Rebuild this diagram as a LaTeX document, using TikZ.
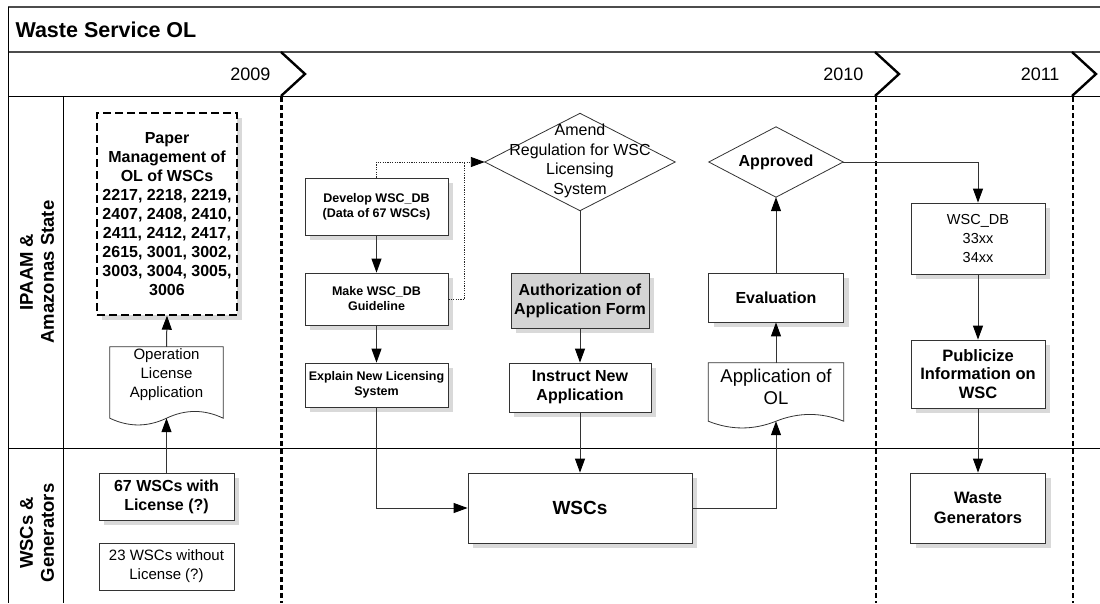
\documentclass[tikz,border=0pt]{standalone}
\usepackage{fontspec}
\setmainfont{Liberation Sans}
\usetikzlibrary{arrows.meta,shadows,calc}
\begin{document}
\begin{tikzpicture}[x=1pt,y=-1pt,
  frameline/.style={draw=black!70, line width=1.2pt},
  laneline/.style={draw=black, line width=0.9pt},
  yeardiv/.style={draw=black, line width=2.6pt, dash pattern=on 5pt off 3pt},
  chev/.style={draw=black, line width=2.4pt, line join=miter},
  year/.style={anchor=east, font=\fontsize{18}{20}\selectfont},
  lanetitle/.style={rotate=90, align=center, font=\bfseries\fontsize{18.5}{21}\selectfont},
  box/.style={draw=black!80, line width=0.8pt, fill=white, align=center, inner sep=2pt,
    drop shadow={shadow xshift=5pt, shadow yshift=-5pt, fill=black!15, opacity=1}},
  plainbox/.style={draw=black!80, line width=0.8pt, fill=white, align=center, inner sep=2pt},
  docbox/.style={draw=none, inner sep=0pt},
  outline/.style={draw=black!80, line width=0.8pt, fill=white},
  tip/.style={-{Triangle[length=14pt,width=10pt,color=black,fill=black]}},
  flow/.style={draw=black!80, line width=1pt, tip},
  link/.style={draw=black!80, line width=1pt},
  hintline/.style={draw=black!85, line width=0.9pt, dash pattern=on 1.2pt off 1.2pt},
  small/.style={font=\bfseries\fontsize{12.5}{15}\selectfont},
  mid/.style={font=\bfseries\fontsize{16}{19}\selectfont},
]
\useasboundingbox (0,0) rectangle (1100,603);

% frame, title bar, timeline band and lanes
\draw[frameline] (8,7) -- (1100,7);
\draw[frameline] (8,52) -- (1100,52);
\draw[laneline] (8,96) -- (1100,96);
\draw[laneline] (8,448) -- (1100,448);
\draw[laneline] (8,7) -- (8,603);
\draw[laneline] (63,96) -- (63,603);

\node[anchor=west, font=\bfseries\fontsize{21.5}{24}\selectfont] (title) at (12,29.5) {Waste Service OL};

% year markers
\node[year] (y2009) at (274,74) {2009};
\node[year] (y2010) at (867,74) {2010};
\node[year] (y2011) at (1063,74) {2011};
\draw[chev] (281,52) -- (305,74) -- (281,96);
\draw[chev] (875,52) -- (899,74) -- (875,96);
\draw[chev] (1072,52) -- (1096,74) -- (1072,96);
\draw[yeardiv] (281.5,97) -- (281.5,603);
\draw[yeardiv] (876,97) -- (876,603);
\draw[yeardiv] (1073,97) -- (1073,603);

% lane titles
\node[lanetitle] (lane1) at (37,272) {IPAAM \&\\Amazonas State};
\node[lanetitle] (lane2) at (37,533) {WSCs \&\\Generators};

% 2009
\node[box, draw=black, line width=1.4pt, dash pattern=on 8pt off 4pt,
  minimum width=140pt, minimum height=202pt,
  font=\bfseries\fontsize{16}{19}\selectfont] (paper) at (167,214)
  {Paper\\Management of\\OL of WSCs\\2217, 2218, 2219,\\2407, 2408, 2410,\\2411, 2412, 2417,\\2615, 3001, 3002,\\3003, 3004, 3005,\\3006};

\node[docbox, minimum width=113pt, minimum height=71pt] (ola) at (166.5,382.5) {};
\draw[outline] (ola.north west) -- (ola.north east) -- (ola.south east)
  .. controls +(-19,-9) and +(19,-9) .. (ola.south)
  .. controls +(-19,9) and +(19,9) .. (ola.south west) -- cycle;
\node[align=center, font=\fontsize{15}{19}\selectfont] (olatext) at (166.5,375) {Operation\\License\\Application};

\node[box, minimum width=135pt, minimum height=47pt, font=\bfseries\fontsize{16}{19}\selectfont] (with) at (166.5,496.5) {67 WSCs with\\License (?)};
\node[plainbox, minimum width=135pt, minimum height=47pt, font=\fontsize{15}{19}\selectfont] (without) at (166.5,566.5) {23 WSCs without\\License (?)};

% 2010
\node[box, small, minimum width=143pt, minimum height=57pt] (dev) at (376.5,206.5) {Develop WSC\_DB\\(Data of 67 WSCs)};
\node[box, small, minimum width=143pt, minimum height=52pt] (make) at (376.5,299) {Make WSC\_DB\\Guideline};
\node[box, small, minimum width=143pt, minimum height=44pt] (expl) at (376.5,385) {Explain New Licensing\\System};

\node[docbox, minimum width=190pt, minimum height=97pt] (amend) at (580,162) {};
\draw[outline] (amend.west) -- (amend.north) -- (amend.east) -- (amend.south) -- cycle;
\node[align=center, font=\fontsize{16}{19.5}\selectfont] (amendtext) at (580,161) {Amend\\Regulation for WSC\\Licensing\\System};

\node[box, mid, fill=black!17, minimum width=138pt, minimum height=55pt] (auth) at (580,300.5) {Authorization of\\Application Form};
\node[box, mid, minimum width=142pt, minimum height=49pt] (inst) at (580,387.5) {Instruct New\\Application};
\node[box, font=\bfseries\fontsize{19}{22}\selectfont, minimum width=224pt, minimum height=70pt] (wscs) at (580,508) {WSCs};

\node[docbox, minimum width=134pt, minimum height=70pt] (appr) at (776,162) {};
\draw[outline] (appr.west) -- (appr.north) -- (appr.east) -- (appr.south) -- cycle;
\node[font=\bfseries\fontsize{16}{19}\selectfont] (apprtext) at (776,162) {Approved};

\node[box, mid, minimum width=135pt, minimum height=49pt] (eval) at (776,297.5) {Evaluation};

\node[docbox, minimum width=135pt, minimum height=58pt] (aol) at (776,392) {};
\draw[outline] (aol.north west) -- (aol.north east) -- (aol.south east)
  .. controls +(-22.5,-9) and +(22.5,-9) .. (aol.south)
  .. controls +(-22.5,9) and +(22.5,9) .. (aol.south west) -- cycle;
\node[align=center, font=\fontsize{18.5}{21.5}\selectfont] (aoltext) at (776,387) {Application of\\OL};

% 2011
\node[box, font=\fontsize{14.5}{19}\selectfont, minimum width=134pt, minimum height=71pt] (wscdb) at (978,238.5) {WSC\_DB\\33xx\\34xx};
\node[box, font=\bfseries\fontsize{16.5}{18.5}\selectfont, minimum width=134pt, minimum height=68pt] (pub) at (978,374) {Publicize\\Information on\\WSC};
\node[box, font=\bfseries\fontsize{16.5}{20}\selectfont, minimum width=135pt, minimum height=70pt] (gen) at (978,508) {Waste\\Generators};

% connectors
\draw[flow] (ola.north) -- (paper.south);
\draw[flow] (with.north) -- (ola.south);

\draw[flow] (dev.south) -- (make.north);
\draw[flow] (make.south) -- (expl.north);
\draw[flow] (expl.south) |- (wscs.west);
\draw[hintline, tip] (dev.north) |- (amend.west);
\draw[hintline] (make.east) -| ($(amend.west)+(-20,0)$);

\draw[link] (amend.south) -- (auth.north);
\draw[flow] (auth.south) -- (inst.north);
\draw[flow] (inst.south) -- (wscs.north);
\draw[flow] (wscs.east) -| (aol.south);
\draw[flow] (aol.north) -- (eval.south);
\draw[flow] (eval.north) -- (appr.south);
\draw[flow] (appr.east) -| (wscdb.north);
\draw[flow] (wscdb.south) -- (pub.north);
\draw[flow] (pub.south) -- (gen.north);
\end{tikzpicture}
\end{document}
